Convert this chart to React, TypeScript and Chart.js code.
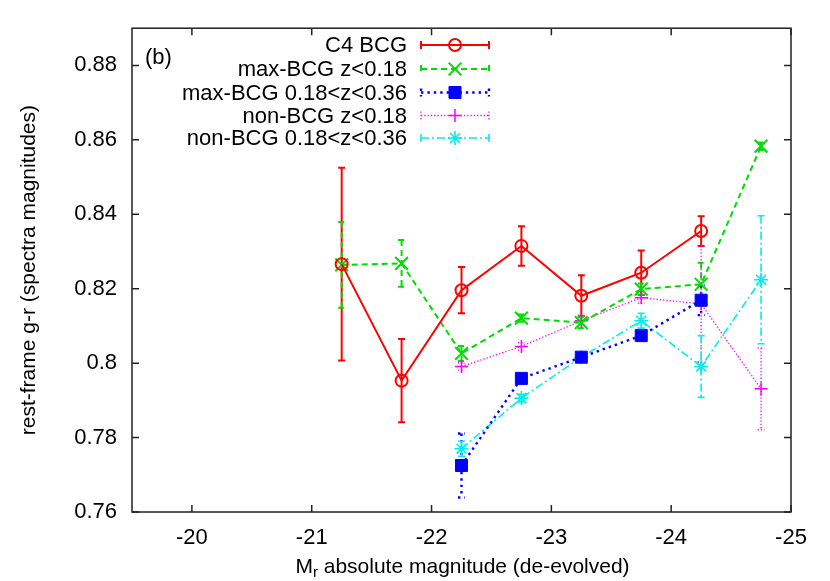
import React, { useEffect, useRef } from 'react';
import { Chart, registerables } from 'chart.js';
import { drawPoint } from 'chart.js/helpers';

Chart.register(...registerables);

// ---- data ----
const xC4 = [-21.25, -21.75, -22.25, -22.75, -23.25, -23.75, -24.25];
const yC4 = [0.8266, 0.7953, 0.8196, 0.8315, 0.8181, 0.8243, 0.8355];
const eC4 = [0.0259, 0.0112, 0.0062, 0.0053, 0.0055, 0.006, 0.004];

const xMaxLow = [-21.25, -21.75, -22.25, -22.75, -23.25, -23.75, -24.25, -24.75];
const yMaxLow = [0.8264, 0.8268, 0.8026, 0.8121, 0.8109, 0.8199, 0.8212, 0.8583];
const eMaxLow = [0.0115, 0.0063, 0.002, 0.001, 0.0015, 0.0015, 0.0058, 0.001];

const xMaxHigh = [-22.25, -22.75, -23.25, -23.75, -24.25];
const yMaxHigh = [0.7725, 0.7959, 0.8016, 0.8074, 0.8169];
const eMaxHigh = [0.0086, 0.001, 0.001, 0.001, 0.004];

const xNonLow = [-22.25, -22.75, -23.25, -23.75, -24.25, -24.75];
const yNonLow = [0.7991, 0.8045, 0.8114, 0.8176, 0.8159, 0.7931];
const eNonLow = [0.001, 0.001, 0.0015, 0.0015, 0.0156, 0.011];

const xNonHigh = [-22.25, -22.75, -23.25, -23.75, -24.25, -24.75];
const yNonHigh = [0.777, 0.7906, 0.8016, 0.8114, 0.7991, 0.8224];
const eNonHigh = [0.002, 0.001, 0.001, 0.002, 0.0083, 0.0172];

const seriesLabels = [
  'C4 BCG',
  'max-BCG z<0.18',
  'max-BCG 0.18<z<0.36',
  'non-BCG z<0.18',
  'non-BCG 0.18<z<0.36',
];

const xTicks = [-20, -21, -22, -23, -24, -25];
const yTicks = [0.76, 0.78, 0.8, 0.82, 0.84, 0.86, 0.88];

const FONT = '"Liberation Sans", Arial, Helvetica, sans-serif';
const FS = 22;
const FT = 21;

const toPts = (xs: number[], ys: number[]) => xs.map((x, i) => ({ x, y: ys[i] }));

const errorBarPlugin = {
  id: 'errorBars',
  beforeDatasetsDraw(chart: any) {
    const { ctx } = chart;
    const xs = chart.scales.x;
    const ys = chart.scales.y;
    chart.data.datasets.forEach((ds: any, i: number) => {
      const meta = chart.getDatasetMeta(i);
      if (meta.hidden || !ds.errors) return;
      ctx.save();
      ctx.beginPath();
      ctx.rect(chart.chartArea.left, chart.chartArea.top, chart.chartArea.right - chart.chartArea.left, chart.chartArea.bottom - chart.chartArea.top);
      ctx.clip();
      ctx.strokeStyle = ds.borderColor;
      ctx.lineWidth = ds.borderWidth;
      ctx.setLineDash(ds.borderDash || []);
      const cap = 3.5;
      ds.data.forEach((p: any, j: number) => {
        const e = ds.errors[j];
        if (!e) return;
        const px = xs.getPixelForValue(p.x);
        const top = ys.getPixelForValue(p.y + e);
        const bot = ys.getPixelForValue(p.y - e);
        ctx.beginPath();
        ctx.moveTo(px, top);
        ctx.lineTo(px, bot);
        ctx.moveTo(px - cap, top);
        ctx.lineTo(px + cap, top);
        ctx.moveTo(px - cap, bot);
        ctx.lineTo(px + cap, bot);
        ctx.stroke();
      });
      ctx.restore();
    });
  },
};

const framePlugin = {
  id: 'frameAndLegend',
  afterDraw(chart: any) {
    const { ctx, chartArea: a } = chart;
    const xs = chart.scales.x;
    const ys = chart.scales.y;
    ctx.save();
    ctx.strokeStyle = '#222';
    ctx.lineWidth = 1.5;
    ctx.setLineDash([]);
    ctx.strokeRect(a.left, a.top, a.right - a.left, a.bottom - a.top);
    const tl = 7;
    ctx.beginPath();
    xTicks.forEach((v) => {
      const px = xs.getPixelForValue(v);
      ctx.moveTo(px, a.bottom);
      ctx.lineTo(px, a.bottom - tl);
      ctx.moveTo(px, a.top);
      ctx.lineTo(px, a.top + tl);
    });
    yTicks.forEach((v) => {
      const py = ys.getPixelForValue(v);
      ctx.moveTo(a.left, py);
      ctx.lineTo(a.left + tl, py);
      ctx.moveTo(a.right, py);
      ctx.lineTo(a.right - tl, py);
    });
    ctx.stroke();

    // x axis title with subscript
    ctx.fillStyle = '#000';
    ctx.textBaseline = 'alphabetic';
    const bigT = `${FT}px ${FONT}`;
    const big = `${FS}px ${FONT}`;
    const small = `${Math.round(FT * 0.7)}px ${FONT}`;
    const t1 = 'M';
    const t2 = 'r';
    const t3 = ' absolute magnitude (de-evolved)';
    ctx.font = bigT;
    const w1 = ctx.measureText(t1).width;
    const w3 = ctx.measureText(t3).width;
    ctx.font = small;
    const w2 = ctx.measureText(t2).width;
    const total = w1 + w2 + w3;
    let tx = (a.left + a.right) / 2 - total / 2 + 1;
    const ty = 573;
    ctx.textAlign = 'left';
    ctx.font = bigT;
    ctx.fillText(t1, tx, ty);
    tx += w1;
    ctx.font = small;
    ctx.fillText(t2, tx, ty + 4);
    tx += w2;
    ctx.font = bigT;
    ctx.fillText(t3, tx, ty);

    // (b) label
    ctx.font = big;
    ctx.textBaseline = 'middle';
    ctx.fillText('(b)', a.left + 13, 58);

    // legend
    const rows = [45, 69, 92.5, 115.5, 138];
    const textRight = 407;
    const x0 = 421;
    const x1 = 489;
    const xm = 455;
    chart.data.datasets.forEach((ds: any, i: number) => {
      const y = rows[i];
      ctx.font = big;
      ctx.textAlign = 'right';
      ctx.textBaseline = 'middle';
      ctx.fillStyle = '#000';
      ctx.fillText(ds.label, textRight, y + 1);
      ctx.strokeStyle = ds.borderColor;
      ctx.lineWidth = ds.borderWidth;
      ctx.setLineDash(ds.borderDash || []);
      ctx.beginPath();
      ctx.moveTo(x0, y);
      ctx.lineTo(x1, y);
      ctx.moveTo(x0, y - 4);
      ctx.lineTo(x0, y + 4);
      ctx.moveTo(x1, y - 4);
      ctx.lineTo(x1, y + 4);
      ctx.stroke();
      ctx.setLineDash([]);
      ctx.fillStyle = ds.pointBackgroundColor;
      ctx.strokeStyle = ds.pointBorderColor;
      ctx.lineWidth = ds.pointBorderWidth;
      drawPoint(ctx, { pointStyle: ds.pointStyle, rotation: 0, radius: ds.pointRadius, borderWidth: ds.pointBorderWidth } as any, xm, y);
    });
    ctx.restore();
  },
};

export default function App() {
  const ref = useRef<HTMLCanvasElement>(null);
  useEffect(() => {
    document.body.style.margin = '0';
    const canvas = ref.current;
    if (!canvas) return;
    const red = '#ff0000';
    const green = '#00dd00';
    const blue = '#0000ff';
    const magenta = '#ff00ff';
    const cyan = '#00eeee';
    const chart = new Chart(canvas, {
      type: 'line',
      data: {
        datasets: [
          {
            label: seriesLabels[0],
            data: toPts(xC4, yC4),
            errors: eC4,
            borderColor: red,
            borderWidth: 2,
            borderDash: [],
            pointStyle: 'circle',
            pointRadius: 6,
            pointBorderWidth: 2,
            pointBorderColor: red,
            pointBackgroundColor: 'rgba(0,0,0,0)',
          },
          {
            label: seriesLabels[1],
            data: toPts(xMaxLow, yMaxLow),
            errors: eMaxLow,
            borderColor: green,
            borderWidth: 2,
            borderDash: [6, 4],
            pointStyle: 'crossRot',
            pointRadius: 9,
            pointBorderWidth: 2,
            pointBorderColor: green,
            pointBackgroundColor: green,
          },
          {
            label: seriesLabels[2],
            data: toPts(xMaxHigh, yMaxHigh),
            errors: eMaxHigh,
            borderColor: blue,
            borderWidth: 2.4,
            borderDash: [2.4, 4],
            pointStyle: 'rect',
            pointRadius: 8.5,
            pointBorderWidth: 1,
            pointBorderColor: blue,
            pointBackgroundColor: blue,
          },
          {
            label: seriesLabels[3],
            data: toPts(xNonLow, yNonLow),
            errors: eNonLow,
            borderColor: magenta,
            borderWidth: 1.3,
            borderDash: [1.3, 2],
            pointStyle: 'cross',
            pointRadius: 6.5,
            pointBorderWidth: 1.5,
            pointBorderColor: magenta,
            pointBackgroundColor: magenta,
          },
          {
            label: seriesLabels[4],
            data: toPts(xNonHigh, yNonHigh),
            errors: eNonHigh,
            borderColor: cyan,
            borderWidth: 1.6,
            borderDash: [8, 3, 2, 3],
            pointStyle: 'star',
            pointRadius: 7,
            pointBorderWidth: 1.6,
            pointBorderColor: cyan,
            pointBackgroundColor: cyan,
          },
        ] as any,
      },
      options: {
        responsive: false,
        animation: false,
        devicePixelRatio: 1,
        layout: { padding: { top: 28, right: 39, left: 0, bottom: 0 } },
        plugins: {
          legend: { display: false },
          tooltip: { enabled: false },
        },
        elements: { line: { tension: 0, fill: false } },
        scales: {
          x: {
            type: 'linear',
            min: -25,
            max: -19.5,
            reverse: true,
            grid: { display: false, drawTicks: false },
            border: { display: false },
            afterBuildTicks: (s: any) => {
              s.ticks = xTicks.map((v) => ({ value: v }));
            },
            afterFit: (s: any) => {
              s.height = 69;
            },
            ticks: {
              padding: 13,
              color: '#000',
              font: { family: FONT, size: FS },
              maxRotation: 0,
              callback: (v: any) => String(v),
            },
            title: { display: false },
          },
          y: {
            type: 'linear',
            min: 0.76,
            max: 0.89,
            grid: { display: false, drawTicks: false },
            border: { display: false },
            afterBuildTicks: (s: any) => {
              s.ticks = yTicks.map((v) => ({ value: v }));
            },
            afterFit: (s: any) => {
              s.width = 132;
            },
            ticks: {
              padding: 15,
              color: '#000',
              font: { family: FONT, size: FS },
              callback: (v: any) => String(Math.round(Number(v) * 100) / 100),
            },
            title: {
              display: true,
              text: 'rest-frame g-r (spectra magnitudes)',
              color: '#000',
              font: { family: FONT, size: FT },
              padding: { top: 17, bottom: 0 },
            },
          },
        },
      } as any,
      plugins: [errorBarPlugin, framePlugin],
    });
    return () => chart.destroy();
  }, []);
  return <canvas ref={ref} width={830} height={581} style={{ display: 'block' }} />;
}
